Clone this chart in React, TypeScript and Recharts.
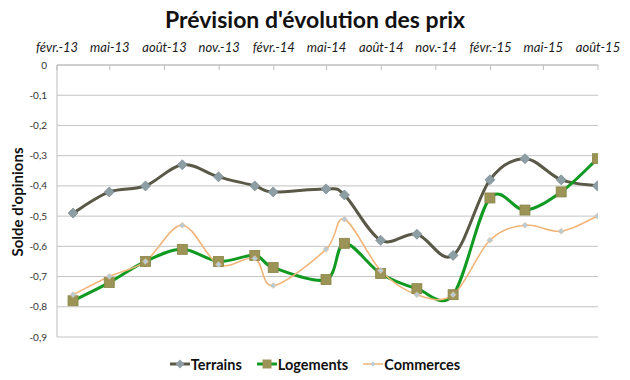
import React from "react";
import { LineChart, Line, XAxis, YAxis, CartesianGrid, Legend } from "recharts";

const dates = [
  "2013-02-28", "2013-04-30", "2013-06-30", "2013-08-31", "2013-10-31", "2013-12-31",
  "2014-01-31", "2014-04-30", "2014-05-31", "2014-07-31", "2014-09-30", "2014-11-30",
  "2015-01-31", "2015-03-31", "2015-05-31", "2015-07-31",
];
const terrains = [-0.49, -0.42, -0.4, -0.33, -0.37, -0.4, -0.42, -0.41, -0.43, -0.58, -0.56, -0.63, -0.38, -0.31, -0.38, -0.4];
const logements = [-0.78, -0.72, -0.65, -0.61, -0.65, -0.63, -0.67, -0.71, -0.59, -0.69, -0.74, -0.76, -0.44, -0.48, -0.42, -0.31];
const commerces = [-0.76, -0.7, -0.65, -0.53, -0.66, -0.64, -0.73, -0.61, -0.51, -0.68, -0.76, -0.76, -0.58, -0.53, -0.55, -0.5];

const tickDates = [
  "2013-02-01", "2013-05-01", "2013-08-01", "2013-11-01", "2014-02-01", "2014-05-01",
  "2014-08-01", "2014-11-01", "2015-02-01", "2015-05-01", "2015-08-01",
];
const tickLabels = [
  "févr.-13", "mai-13", "août-13", "nov.-13", "févr.-14", "mai-14",
  "août-14", "nov.-14", "févr.-15", "mai-15", "août-15",
];
const yTicks = [0, -0.1, -0.2, -0.3, -0.4, -0.5, -0.6, -0.7, -0.8, -0.9];

const seriesNames = ["Terrains", "Logements", "Commerces"];

const toTime = (s: string) => new Date(s + "T00:00:00Z").getTime();
const tickTimes = tickDates.map(toTime);

const data = dates.map((d, i) => ({
  t: toTime(d),
  Terrains: terrains[i],
  Logements: logements[i],
  Commerces: commerces[i],
}));

// Excel-like smoothing (Catmull-Rom through points)
const excelCurve = (context: any) => {
  let pts: number[][] = [];
  return {
    areaStart() {},
    areaEnd() {},
    lineStart() {
      pts = [];
    },
    point(x: number, y: number) {
      pts.push([+x, +y]);
    },
    lineEnd() {
      const n = pts.length;
      if (!n) return;
      context.moveTo(pts[0][0], pts[0][1]);
      for (let i = 0; i < n - 1; i++) {
        const p0 = pts[i - 1] || pts[i];
        const p1 = pts[i];
        const p2 = pts[i + 1];
        const p3 = pts[i + 2] || pts[i + 1];
        const c1x = p1[0] + (p2[0] - p0[0]) / 6;
        const c1y = p1[1] + (p2[1] - p0[1]) / 6;
        const c2x = p2[0] - (p3[0] - p1[0]) / 6;
        const c2y = p2[1] - (p3[1] - p1[1]) / 6;
        context.bezierCurveTo(c1x, c1y, c2x, c2y, p2[0], p2[1]);
      }
    },
  };
};

const COLORS = {
  Terrains: "#5a5846",
  Logements: "#109a22",
  Commerces: "#f1b57a",
};

const diamond = (cx: number, cy: number, r: number) =>
  `M${cx},${cy - r}L${cx + r},${cy}L${cx},${cy + r}L${cx - r},${cy}Z`;

const TerrainDot = (p: any) =>
  p.cx == null ? null : (
    <path key={`t${p.index}`} d={diamond(p.cx, p.cy, 5)} fill="#8e9ea5" stroke="#7d8d94" strokeWidth={0.8} />
  );
const LogementDot = (p: any) =>
  p.cx == null ? null : (
    <rect key={`l${p.index}`} x={p.cx - 5} y={p.cy - 5} width={10} height={10} fill="#9b9456" stroke="#8a8448" strokeWidth={0.8} />
  );
const CommerceDot = (p: any) =>
  p.cx == null ? null : (
    <path key={`c${p.index}`} d={diamond(p.cx, p.cy, 3)} fill="#b9cbd4" stroke="#e9b98a" strokeWidth={0.5} />
  );

const LegendIcon = ({ name }: { name: string }) => {
  const c = (COLORS as any)[name];
  return (
    <svg width={20} height={12} style={{ display: "block" }}>
      <line x1={0} y1={6} x2={20} y2={6} stroke={c} strokeWidth={name === "Commerces" ? 1.5 : 3} />
      {name === "Terrains" && <path d={diamond(10, 6, 4.5)} fill="#8e9ea5" />}
      {name === "Logements" && <rect x={5.5} y={1.5} width={9} height={9} fill="#9b9456" />}
      {name === "Commerces" && <path d={diamond(10, 6, 2.5)} fill="#b9cbd4" />}
    </svg>
  );
};

const renderLegend = () => (
  <div
    style={{
      display: "flex",
      justifyContent: "center",
      alignItems: "center",
      height: 24,
      gap: 15,
      fontFamily: "Lato, sans-serif",
      fontWeight: 700,
      fontSize: 14.5,
      color: "#111",
    }}
  >
    {seriesNames.map((n) => (
      <div key={n} style={{ display: "flex", alignItems: "center", gap: 1 }}>
        <LegendIcon name={n} />
        <span>{n}</span>
      </div>
    ))}
  </div>
);

export default function App() {
  return (
    <div style={{ position: "absolute", left: 0, top: 0, width: 630, height: 380, background: "#fff" }}>
      <LineChart
        width={630}
        height={380}
        data={data}
        margin={{ top: 45, right: 32, left: 17, bottom: 19 }}
      >
        <CartesianGrid vertical={false} stroke="#c3c3c3" strokeWidth={1} />
        <XAxis
          dataKey="t"
          type="number"
          scale="linear"
          orientation="top"
          domain={[tickTimes[0], tickTimes[tickTimes.length - 1]]}
          ticks={tickTimes}
          tickFormatter={(v: number) => tickLabels[tickTimes.indexOf(v)] ?? ""}
          height={20}
          stroke="#bdbdbd"
          tickSize={-5}
          tickMargin={18}
          interval={0}
          tick={{ fill: "#1a1a1a", fontSize: 13, fontStyle: "italic", fontFamily: "Lato, sans-serif" }}
          allowDataOverflow
        />
        <YAxis
          type="number"
          domain={[-0.9, 0]}
          ticks={yTicks}
          width={40}
          stroke="#bdbdbd"
          tickLine={false}
          tickSize={0}
          tickMargin={10}
          interval={0}
          tickFormatter={(v: number) => (v === 0 ? "0" : v.toFixed(1).replace(".", ","))}
          tick={{ fill: "#333", fontSize: 10, fontFamily: "Lato, sans-serif" }}
        />
        <Legend
          verticalAlign="bottom"
          content={renderLegend}
          wrapperStyle={{ left: 0, width: 630, bottom: 4 }}
        />
        <Line
          dataKey="Terrains"
          type={excelCurve as any}
          stroke={COLORS.Terrains}
          strokeWidth={3}
          dot={TerrainDot}
          activeDot={false}
          isAnimationActive={false}
        />
        <Line
          dataKey="Logements"
          type={excelCurve as any}
          stroke={COLORS.Logements}
          strokeWidth={3}
          dot={LogementDot}
          activeDot={false}
          isAnimationActive={false}
        />
        <Line
          dataKey="Commerces"
          type={excelCurve as any}
          stroke={COLORS.Commerces}
          strokeWidth={1.6}
          dot={CommerceDot}
          activeDot={false}
          isAnimationActive={false}
        />
      </LineChart>
      <svg
        width={630}
        height={380}
        style={{ position: "absolute", left: 0, top: 0, pointerEvents: "none" }}
      >
        <text
          x={315}
          y={28}
          textAnchor="middle"
          fontFamily="Lato, sans-serif"
          fontWeight={700}
          fontSize={23}
          fill="#111"
        >
          Prévision d'évolution des prix
        </text>
        <text
          transform="translate(23,202) rotate(-90)"
          textAnchor="middle"
          fontFamily="Lato, sans-serif"
          fontWeight={700}
          fontSize={15}
          fill="#111"
        >
          Solde d'opinions
        </text>
      </svg>
    </div>
  );
}
